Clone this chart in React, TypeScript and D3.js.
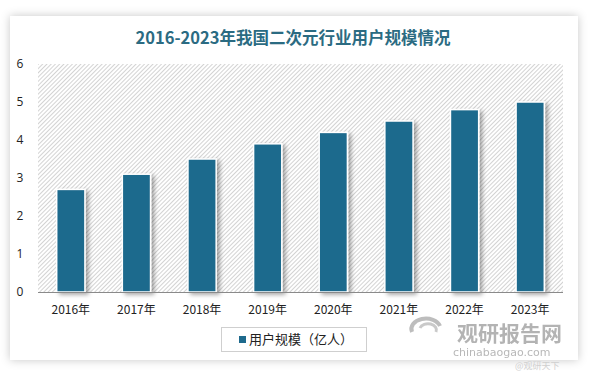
import React from "react";
import * as d3 from "d3";

const categories = ["2016年", "2017年", "2018年", "2019年", "2020年", "2021年", "2022年", "2023年"];
const values = [2.7, 3.1, 3.5, 3.9, 4.2, 4.5, 4.8, 5.0];
const yTicks = [0, 1, 2, 3, 4, 5, 6];
const title = "2016-2023年我国二次元行业用户规模情况";
const seriesName = "用户规模（亿人）";

const W = 590, H = 376;
const plot = { left: 38, right: 563, top: 64, bottom: 292 };
const barColor = "#1e6a8d";
const font = "'Noto Sans CJK SC', 'Noto Sans', sans-serif";

export default function App() {
  const x = d3.scaleBand<string>().domain(categories).range([plot.left, plot.right]).paddingInner(0.57).paddingOuter(0.285);
  const y = d3.scaleLinear().domain([0, 6]).range([plot.bottom, plot.top]);

  return (
    <div style={{ position: "fixed", left: 0, top: 0 }}>
      <svg width={W} height={H} style={{ display: "block", background: "#ffffff" }}>
        <defs>
          <pattern id="hatch" width="3" height="3" patternUnits="userSpaceOnUse" patternTransform="rotate(45)">
            <rect width="3" height="3" fill="#ffffff" />
            <line x1="0.5" y1="0" x2="0.5" y2="3" stroke="#d3d3d3" strokeWidth="1" />
          </pattern>
          <filter id="card" x="-10%" y="-10%" width="120%" height="120%">
            <feDropShadow dx="0" dy="0" stdDeviation="5" floodColor="#000" floodOpacity="0.22" />
          </filter>
          <filter id="barShadow" x="-30%" y="-10%" width="160%" height="120%">
            <feDropShadow dx="3" dy="2" stdDeviation="2" floodColor="#000" floodOpacity="0.35" />
          </filter>
        </defs>
        <rect x={10} y={16} width={568} height={344} fill="#ffffff" filter="url(#card)" />
        <text x={293} y={44} textAnchor="middle" fontFamily={font} fontSize={16.5} fontWeight="bold" fill="#2b6b82">{title}</text>
        <rect x={plot.left} y={plot.top} width={plot.right - plot.left} height={plot.bottom - plot.top} fill="url(#hatch)" />
        {yTicks.map((t) => (
          <text key={t} x={20} y={y(t) + 4} textAnchor="middle" fontFamily="'Open Sans', sans-serif" fontSize={12} fill="#222">{t}</text>
        ))}
        {categories.map((c, i) => (
          <rect key={c} x={x(c)} y={y(values[i])} width={x.bandwidth()} height={plot.bottom - y(values[i])} fill={barColor} stroke="#ffffff" strokeWidth={1.5} filter="url(#barShadow)" />
        ))}
        <line x1={plot.left} x2={plot.right} y1={plot.bottom + 0.5} y2={plot.bottom + 0.5} stroke="#8a8a8a" strokeWidth={1} />
        {categories.map((c) => (
          <text key={c} x={(x(c) as number) + x.bandwidth() / 2} y={314} textAnchor="middle" fontFamily={font} fontSize={12} fill="#222">{c}</text>
        ))}
        <rect x={221.5} y={327.5} width={145} height={24} fill="#ffffff" stroke="#cfcfcf" strokeWidth={1} />
        <rect x={239} y={336} width={7} height={7} fill={barColor} />
        <text x={249} y={344} fontFamily={font} fontSize={13} fill="#222">{seriesName}</text>
        <g opacity={0.75}>
          <path d="M 412 332 A 14 10 0 1 1 440 326" fill="none" stroke="#a8a8a8" strokeWidth={4} />
          <path d="M 420 328 A 8 6 0 1 1 436 332" fill="none" stroke="#b8b8b8" strokeWidth={3} />
          <text x={457} y={341} fontFamily={font} fontSize={21} fontWeight="bold" fill="#9a9a9a">观研报告网</text>
          <text x={453} y={356} fontFamily="'DejaVu Sans', sans-serif" fontSize={11} fill="#a0a0a0">chinabaogao.com</text>
        </g>
        <text x={515} y={369} fontFamily={font} fontSize={9} fill="#d0d0d0">@观研天下</text>
      </svg>
    </div>
  );
}
